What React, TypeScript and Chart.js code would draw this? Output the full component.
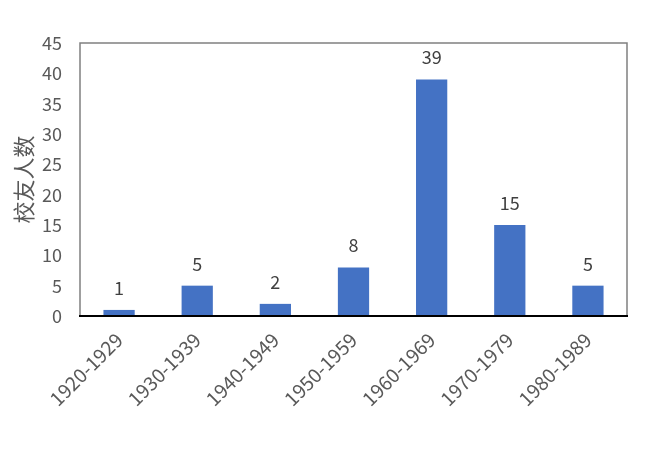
import React, { useEffect, useRef } from "react";
import { Chart, registerables } from "chart.js";

Chart.register(...registerables);

const categories = ["1920-1929", "1930-1939", "1940-1949", "1950-1959", "1960-1969", "1970-1979", "1980-1989"];
const alumniCounts = [1, 5, 2, 8, 39, 15, 5];
const yAxisTitle = "校友人数";

const FONT = "'Noto Sans CJK SC', 'Noto Sans', sans-serif";

const framePlugin = {
  id: "frame",
  afterDatasetsDraw(chart: any) {
    const { ctx, chartArea } = chart;
    const { left, right, top, bottom } = chartArea;
    ctx.save();
    ctx.strokeStyle = "#808080";
    ctx.lineWidth = 1.5;
    ctx.beginPath();
    ctx.moveTo(left, bottom);
    ctx.lineTo(left, top);
    ctx.lineTo(right, top);
    ctx.lineTo(right, bottom);
    ctx.stroke();
    ctx.strokeStyle = "#000000";
    ctx.lineWidth = 2;
    ctx.beginPath();
    ctx.moveTo(left - 1, bottom);
    ctx.lineTo(right + 1, bottom);
    ctx.stroke();
    // data labels
    const meta = chart.getDatasetMeta(0);
    ctx.fillStyle = "#404040";
    ctx.font = `18px ${FONT}`;
    ctx.textAlign = "center";
    ctx.textBaseline = "bottom";
    meta.data.forEach((bar: any, i: number) => {
      ctx.fillText(String(chart.data.datasets[0].data[i]), bar.x, bar.y - 13);
    });
    ctx.restore();
  },
};

export default function App() {
  const ref = useRef<HTMLCanvasElement>(null);
  useEffect(() => {
    document.body.style.margin = "0";
    const chart = new Chart(ref.current!, {
      type: "bar",
      data: {
        labels: categories,
        datasets: [
          {
            data: alumniCounts,
            backgroundColor: "#4472C4",
            barPercentage: 0.4,
            categoryPercentage: 1,
          },
        ],
      },
      options: {
        animation: false,
        responsive: false,
        maintainAspectRatio: false,
        layout: { padding: { top: 43, right: 31, left: 0, bottom: 0 } },
        plugins: { legend: { display: false }, tooltip: { enabled: false } },
        scales: {
          x: {
            grid: { display: false, drawTicks: false },
            border: { display: false },
            ticks: {
              color: "#595959",
              font: { family: FONT, size: 19.5 },
              minRotation: 45,
              maxRotation: 45,
              padding: 12,
            },
            afterFit(scale: any) {
              scale.height = 133;
            },
          },
          y: {
            min: 0,
            max: 45,
            grid: { display: false, drawTicks: false },
            border: { display: false },
            ticks: {
              stepSize: 5,
              color: "#595959",
              font: { family: FONT, size: 18 },
              padding: 18,
            },
            title: {
              display: true,
              text: yAxisTitle,
              color: "#595959",
              font: { family: FONT, size: 22 },
              padding: { top: 10, bottom: 0 },
            },
            afterFit(scale: any) {
              scale.width = 80;
            },
          },
        },
      },
      plugins: [framePlugin],
    });
    return () => chart.destroy();
  }, []);
  return (
    <div style={{ position: "absolute", left: 0, top: 0, width: 658, height: 449, background: "#fff" }}>
      <canvas ref={ref} width={658} height={449} style={{ width: 658, height: 449 }} />
    </div>
  );
}
